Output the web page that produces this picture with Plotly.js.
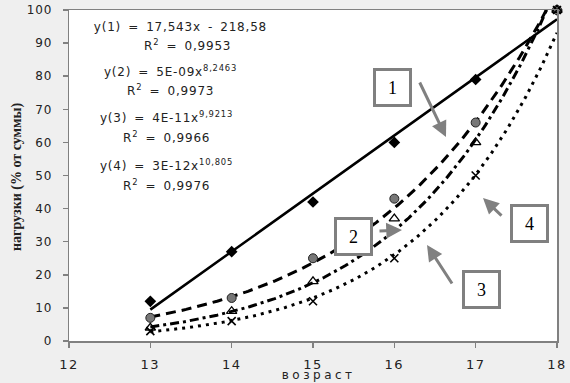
<!DOCTYPE html>
<html>
<head>
<meta charset="utf-8">
<script src="https://cdn.plot.ly/plotly-3.0.1.min.js"></script>
<style>
html,body{margin:0;padding:0;background:#efefef;}
#chart{width:570px;height:383px;}
g.annotation[data-index="0"] text, g.annotation[data-index="1"] text,
g.annotation[data-index="2"] text, g.annotation[data-index="3"] text,
g.annotation[data-index="4"] text, g.annotation[data-index="5"] text,
g.annotation[data-index="6"] text, g.annotation[data-index="7"] text { letter-spacing: 0.8px; word-spacing: 2.5px; }
g.annotation[data-index="16"] text { letter-spacing: 3.5px; }
.xtick text { letter-spacing: 1.5px; }
.ytick text { letter-spacing: 0.8px; }
</style>
</head>
<body>
<div id="chart"></div>
<script>
// ---- data ----
const ages = [13, 14, 15, 16, 17, 18];
const series1 = [12, 27, 42, 60, 79, 100];   // diamonds, linear trend
const series2 = [7, 13, 25, 43, 66, 100];    // circles, power trend
const series3 = [4, 9, 18, 37, 60, 100];     // triangles, power trend
const series4 = [3, 6, 12, 25, 50, 100];     // crosses, power trend
const xTicks = [12, 13, 14, 15, 16, 17, 18];
const yTicks = [0, 10, 20, 30, 40, 50, 60, 70, 80, 90, 100];
const equations = [
  "y(1) = 17,543x - 218,58", "R<sup>2</sup> = 0,9953",
  "y(2) = 5E-09x<sup>8,2463</sup>", "R<sup>2</sup> = 0,9973",
  "y(3) = 4E-11x<sup>9,9213</sup>", "R<sup>2</sup> = 0,9966",
  "y(4) = 3E-12x<sup>10,805</sup>", "R<sup>2</sup> = 0,9976"
];
const boxLabels = ["1", "2", "3", "4"];
const xTitle = "возраст";
const yTitle = "нагрузки (% от суммы)";

// ---- least-squares trendlines (as the spreadsheet does) ----
function linFit(xs, ys) {
  const n = xs.length;
  const mx = xs.reduce((a, b) => a + b, 0) / n, my = ys.reduce((a, b) => a + b, 0) / n;
  let sxy = 0, sxx = 0;
  for (let i = 0; i < n; i++) { sxy += (xs[i] - mx) * (ys[i] - my); sxx += (xs[i] - mx) ** 2; }
  const b = sxy / sxx; return { a: my - b * mx, b: b };
}
function powFit(xs, ys) {
  const f = linFit(xs.map(Math.log), ys.map(Math.log));
  return { c: Math.exp(f.a), p: f.b };
}
const xs = [];
for (let i = 0; i <= 250; i++) xs.push(ages[0] + (ages[ages.length - 1] - ages[0]) * i / 250);
const l1 = linFit(ages, series1);
const trend1 = xs.map(x => l1.a + l1.b * x);
function powTrend(ys) { const f = powFit(ages, ys); return xs.map(x => f.c * Math.pow(x, f.p)); }
const trend2 = powTrend(series2), trend3 = powTrend(series3), trend4 = powTrend(series4);

const traces = [
  { x: xs, y: trend1, mode: 'lines', line: { color: '#000', width: 2.5 }, hoverinfo: 'skip' },
  { x: xs, y: trend2, mode: 'lines', line: { color: '#000', width: 3, dash: '10px,6px' }, hoverinfo: 'skip' },
  { x: xs, y: trend3, mode: 'lines', line: { color: '#000', width: 3, dash: '9px,4px,3px,4px' }, hoverinfo: 'skip' },
  { x: xs, y: trend4, mode: 'lines', line: { color: '#000', width: 3, dash: '3px,5px' }, hoverinfo: 'skip' },
  { x: ages, y: series1, mode: 'markers', cliponaxis: false, marker: { symbol: 'diamond', size: 9, color: '#000' } },
  { x: ages, y: series2, mode: 'markers', cliponaxis: false, marker: { symbol: 'circle', size: 9, color: '#777', line: { color: '#222', width: 1 } } },
  { x: ages, y: series3, mode: 'markers', cliponaxis: false, marker: { symbol: 'triangle-up-open', size: 9, color: '#000', line: { width: 1.3 } } },
  { x: ages, y: series4, mode: 'markers', cliponaxis: false, marker: { symbol: 'x-thin-open', size: 8, color: '#000', line: { color: '#000', width: 1.6 } } }
];

// pixel helpers for decorative placement (plot area 69..557 x 10..341)
const L = 69, R = 557, T = 10, B = 341;
const px = v => (v - L) / (R - L);
const py = v => (B - v) / (B - T);

const eqPos = [[180, 27], [187, 45], [170, 71], [170, 90], [166, 117], [166, 137], [166, 165], [166, 185]];
const annotations = equations.map((t, i) => ({
  text: t, xref: 'paper', yref: 'paper', x: px(eqPos[i][0]), y: py(eqPos[i][1]),
  xanchor: 'center', yanchor: 'middle', showarrow: false,
  font: { family: 'DejaVu Sans, Arial, sans-serif', size: 12, color: '#222' }
}));

const boxPos = [[392.5, 87.5], [353, 236], [481, 289.5], [529, 223]];
boxLabels.forEach((t, i) => annotations.push({
  text: t, xref: 'paper', yref: 'paper', x: px(boxPos[i][0]), y: py(boxPos[i][1]),
  xanchor: 'center', yanchor: 'middle', showarrow: false,
  width: 31, height: 31, borderpad: 1, borderwidth: 3, bordercolor: '#808080', bgcolor: '#fff',
  font: { family: 'Liberation Serif, Times New Roman, serif', size: 18, color: '#000' }
}));

const arrows = [[446, 137, -27, -56], [402, 230, -24, 1], [427, 245, 26, 40], [483, 198, 20, 19]];
arrows.forEach(a => annotations.push({
  text: '', xref: 'paper', yref: 'paper', x: px(a[0]), y: py(a[1]), ax: a[2], ay: a[3],
  showarrow: true, arrowhead: 2, arrowwidth: 3, arrowsize: 1.05, arrowcolor: '#808080'
}));

annotations.push({
  text: xTitle, xref: 'paper', yref: 'paper', x: px(318), y: py(375), xanchor: 'center', yanchor: 'middle',
  showarrow: false, font: { family: 'DejaVu Sans, Arial, sans-serif', size: 12, color: '#222' }
});
annotations.push({
  text: '<b>' + yTitle + '</b>', xref: 'paper', yref: 'paper', x: px(17), y: py(177), xanchor: 'center', yanchor: 'middle',
  textangle: -90, showarrow: false, font: { family: 'Liberation Serif, Times New Roman, serif', size: 14, color: '#222' }
});

const layout = {
  width: 570, height: 383,
  margin: { l: L, r: 570 - R, t: T, b: 383 - B, pad: 0 },
  paper_bgcolor: '#efefef', plot_bgcolor: '#ffffff',
  showlegend: false,
  xaxis: {
    range: [12, 18], tickvals: xTicks, ticktext: xTicks.map(String),
    ticks: 'outside', ticklen: 5, tickcolor: '#808080', tickwidth: 1.5,
    showline: true, linecolor: '#808080', linewidth: 1.5, mirror: true,
    showgrid: false, zeroline: false, ticklabelstandoff: 6,
    tickfont: { family: 'DejaVu Sans, Arial, sans-serif', size: 13, color: '#222' }
  },
  yaxis: {
    range: [0, 100], tickvals: yTicks, ticktext: yTicks.map(String),
    ticks: 'outside', ticklen: 5, tickcolor: '#808080', tickwidth: 1.5,
    showline: true, linecolor: '#808080', linewidth: 1.5, mirror: true,
    showgrid: false, zeroline: false, ticklabelstandoff: 8,
    tickfont: { family: 'DejaVu Sans, Arial, sans-serif', size: 12, color: '#222' }
  },
  annotations: annotations
};

Plotly.newPlot('chart', traces, layout, { staticPlot: true, displayModeBar: false });
</script>
</body>
</html>
